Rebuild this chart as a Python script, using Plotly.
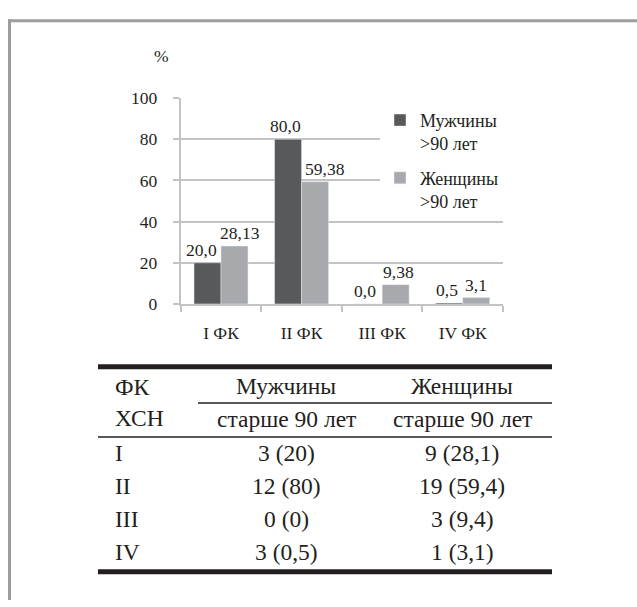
import plotly.graph_objects as go

# ---- data ----
categories = ["I ФК", "II ФК", "III ФК", "IV ФК"]
men_pct = [20.0, 80.0, 0.0, 0.5]
women_pct = [28.13, 59.38, 9.38, 3.1]
series_names = ["Мужчины<br>>90 лет", "Женщины<br>>90 лет"]

table_rows = ["I", "II", "III", "IV"]
men_n = [3, 12, 0, 3]
men_share = [20, 80, 0, 0.5]
women_n = [9, 19, 3, 1]
women_share = [28.1, 59.4, 9.4, 3.1]

# ---- style ----
W, H = 637, 607
FONT = "Liberation Serif"
INK = "#231f20"
GRID = "#c3c3c3"
DARK = "#58595b"
LIGHT = "#a7a9ac"
BARGAP = 0.33
# small horizontal nudges (px) for the value labels, men / women
label_nudge = [[-6, -3, -4, -2], [6, 10, 3, 0]]


def px(x):
    return x / W


def py(y):
    return 1 - y / H


def decimal_comma(v):
    return str(v).replace(".", ",")


def fmt_share(v):
    return str(int(v)) if float(v).is_integer() else decimal_comma(v)


fig = go.Figure()
fig.add_trace(go.Bar(x=categories, y=men_pct, name=series_names[0],
                     marker_color=DARK, legendgroup="m"))
fig.add_trace(go.Bar(x=categories, y=women_pct, name=series_names[1],
                     marker_color=LIGHT, legendgroup="w"))

annotations = []
half = (1 - BARGAP) / 2
for s, vals in enumerate([men_pct, women_pct]):
    for i, v in enumerate(vals):
        annotations.append(dict(
            x=i - half / 2 if s == 0 else i + half / 2, y=v,
            xref="x", yref="y", text=decimal_comma(v),
            showarrow=False, yanchor="middle", xanchor="center",
            yshift=13, xshift=label_nudge[s][i],
            font=dict(family=FONT, size=17.5, color=INK)))

# "%" over the value axis
annotations.append(dict(x=px(152), y=py(48), xref="paper", yref="paper",
                        text="%", showarrow=False, yanchor="middle",
                        font=dict(family=FONT, size=17.5, color=INK)))

# ---- table ----
TF = dict(family=FONT, size=23.5, color=INK)
COL_M, COL_W, COL_L = 286, 462, 113


def cell(x, y, text, anchor="center"):
    annotations.append(dict(x=px(x), y=py(y), xref="paper", yref="paper",
                            text=text, showarrow=False, xanchor=anchor,
                            yanchor="middle", font=TF))


cell(COL_L, 390, "ФК", "left")
cell(COL_L, 422, "ХСН", "left")
cell(COL_M, 389, "Мужчины")
cell(COL_W, 389, "Женщины")
cell(COL_M, 423, "старше 90 лет")
cell(COL_W, 423, "старше 90 лет")
row_y = [458.5, 492.5, 526.5, 560]
for k, lab in enumerate(table_rows):
    cell(COL_L, row_y[k], lab, "left")
    cell(COL_M, row_y[k], f"{men_n[k]} ({fmt_share(men_share[k])})")
    cell(COL_W, row_y[k], f"{women_n[k]} ({fmt_share(women_share[k])})")

shapes = []


def hline(x0, x1, y, w, color=INK):
    shapes.append(dict(type="line", xref="paper", yref="paper",
                       x0=px(x0), x1=px(x1), y0=py(y), y1=py(y),
                       line=dict(color=color, width=w)))


hline(98, 552, 369, 5)
hline(198, 552, 406.5, 1.5)
hline(98, 552, 441.5, 1.5)
hline(98, 552, 581, 5)

# outer frame (top and left edges)
FRAME = "#9d9d9d"
hline(8, 640, 11, 3, FRAME)
shapes.append(dict(type="line", xref="paper", yref="paper",
                   x0=px(9.5), x1=px(9.5), y0=py(9.5), y1=py(610),
                   line=dict(color=FRAME, width=3)))

axis_font = dict(family=FONT, size=17.5, color=INK)
fig.update_layout(
    width=W, height=H,
    margin=dict(l=0, r=0, t=0, b=0),
    paper_bgcolor="white", plot_bgcolor="white",
    barmode="group", bargap=BARGAP, bargroupgap=0,
    xaxis=dict(domain=[px(180.7), px(503)], type="category",
               tickson="boundaries", ticks="outside", ticklen=6,
               tickwidth=2, tickcolor=GRID, showline=True, linecolor=GRID,
               linewidth=2, showgrid=False, tickfont=axis_font,
               ticklabelstandoff=12, fixedrange=True),
    yaxis=dict(domain=[py(304), py(91)], range=[0, 100], dtick=20,
               ticks="outside", ticklen=6, tickwidth=2, tickcolor=GRID,
               showline=True, linecolor=GRID, linewidth=2,
               showgrid=True, gridcolor=GRID, gridwidth=2, zeroline=False,
               tickfont=axis_font, ticklabelstandoff=12, fixedrange=True),
    legend=dict(x=px(380), y=py(95), xanchor="left", yanchor="top",
                bgcolor="white", font=dict(family=FONT, size=18, color=INK),
                valign="top", tracegroupgap=8, itemwidth=30),
    annotations=annotations,
    shapes=shapes,
    showlegend=True,
)

fig.write_html("out.html")
